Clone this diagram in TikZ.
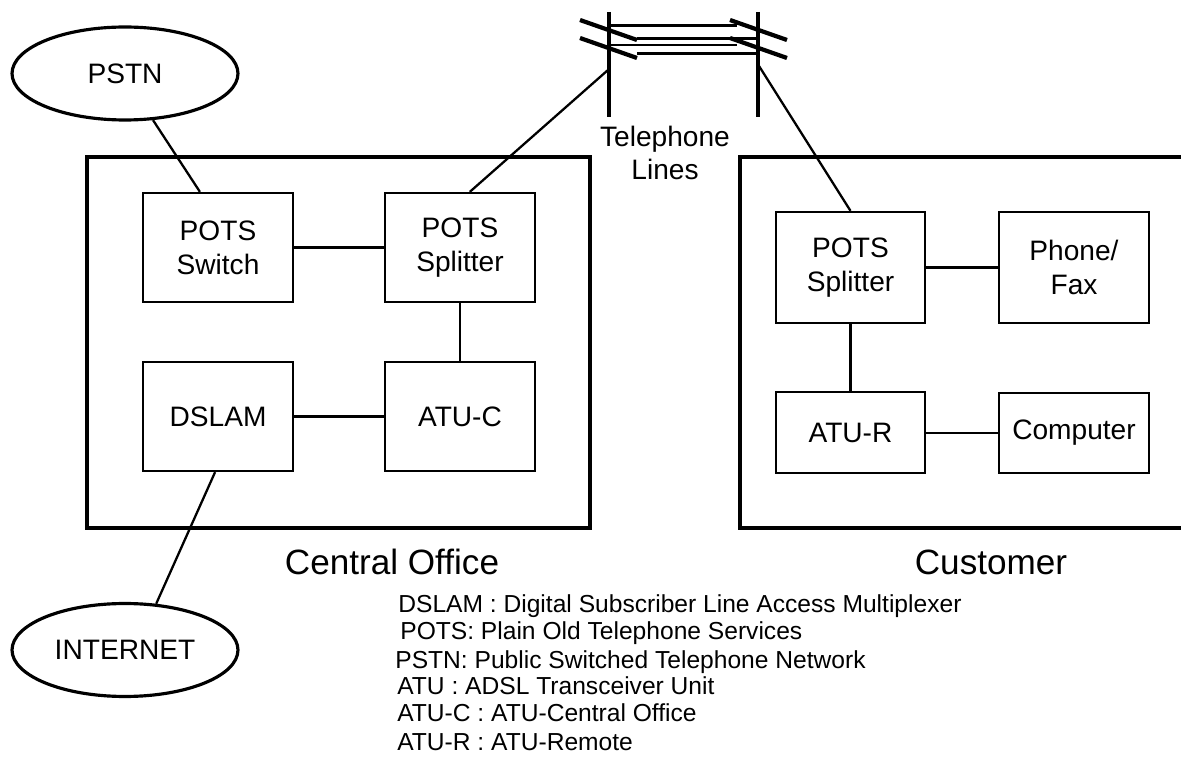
\documentclass[tikz,border=0pt]{standalone}
\usepackage{fontspec}
\setmainfont{Liberation Sans}
\usepackage{tikz}
\usetikzlibrary{shapes.geometric}
\tikzstyle{unit} = [rectangle, draw=black, line width=1.3pt, minimum width=3cm, minimum height=2.18cm, align=center, font=\fontsize{16}{19.5}\selectfont]
\tikzstyle{cloud} = [ellipse, draw=black, line width=1.8pt, minimum width=4.52cm, minimum height=1.86cm, font=\fontsize{16}{19.5}\selectfont]
\tikzstyle{site} = [draw=black, line width=2.2pt]
\tikzstyle{wire} = [line width=1.3pt]
\tikzstyle{pole} = [line width=2.4pt]
\tikzstyle{caption} = [font=\fontsize{20}{24}\selectfont]
\tikzstyle{legend} = [anchor=base west, inner sep=0pt, font=\fontsize{14}{16}\selectfont]

\begin{document}
\begin{tikzpicture}[x=0.02cm, y=-0.02cm]
\useasboundingbox (0,0) rectangle (1181,763);
% sites
\draw [site] (87,157) rectangle (590,528);
\draw [site] (1181,157) -- (740,157) -- (740,528) -- (1181,528);
% central office
\node (pstn) [cloud] at (125,73.5) {PSTN};
\node (internet) [cloud] at (125,650) {INTERNET};
\node (switch) [unit] at (218,247.5) {POTS\\Switch};
\node (cosplit) [unit] at (460,247.5) {POTS\\Splitter};
\node (dslam) [unit] at (218,416.5) {DSLAM};
\node (atuc) [unit] at (460,416.5) {ATU-C};
% customer
\node (custsplit) [unit, minimum width=2.98cm, minimum height=2.22cm] at (850.5,267.5) {POTS\\Splitter};
\node (phone) [unit, minimum height=2.22cm] at (1074,267.5) {Phone/\\Fax};
\node (atur) [unit, minimum width=2.98cm, minimum height=1.62cm] at (850.5,432.5) {ATU-R};
\node (computer) [unit, minimum height=1.6cm] at (1074,433) {Computer};
% telephone poles
\coordinate (lpole) at (608,70);
\coordinate (rpole) at (759,66);
\draw [pole] (609,12) -- (609,117);
\draw [pole] (758,12) -- (758,117);
\draw [pole] (580,20) -- (637,40);
\draw [pole] (580,38) -- (637,58);
\draw [pole] (730,20) -- (787,40);
\draw [pole] (730,38) -- (787,58);
\draw [wire] (610,25.5) -- (737,25.5);
\draw [wire] (637,38.5) -- (757,38.5);
\draw [wire] (610,45) -- (737,45);
\draw [wire] (637,53.5) -- (757,53.5);
\node (lines) [font=\fontsize{16}{18.7}\selectfont, align=center] at (665,153) {Telephone\\Lines};
% connections
\draw [wire] (pstn.-59) -- (switch.108);
\draw [wire] (switch) -- (cosplit);
\draw [wire] (cosplit) -- (atuc);
\draw [wire] (dslam) -- (atuc);
\draw [wire] (dslam.-93) -- (internet.56);
\draw [wire] (lpole) -- (cosplit.80);
\draw [wire] (rpole) -- (custsplit.north);
\draw [wire] (custsplit) -- (phone);
\draw [wire] (custsplit) -- (atur);
\draw [wire] (atur.east |- computer) -- (computer);
% captions
\node (co) [caption] at (392,562) {Central Office};
\node (cust) [caption] at (991,562) {Customer};
\node (l1) [legend] at (398,613) {DSLAM : Digital Subscriber Line Access Multiplexer};
\node (l2) [legend] at (400,640) {POTS: Plain Old Telephone Services};
\node (l3) [legend] at (395,668) {PSTN: Public Switched Telephone Network};
\node (l4) [legend] at (397,695) {ATU : ADSL Transceiver Unit};
\node (l5) [legend] at (397,722) {ATU-C : ATU-Central Office};
\node (l6) [legend] at (397,750) {ATU-R : ATU-Remote};
\end{tikzpicture}
\end{document}
